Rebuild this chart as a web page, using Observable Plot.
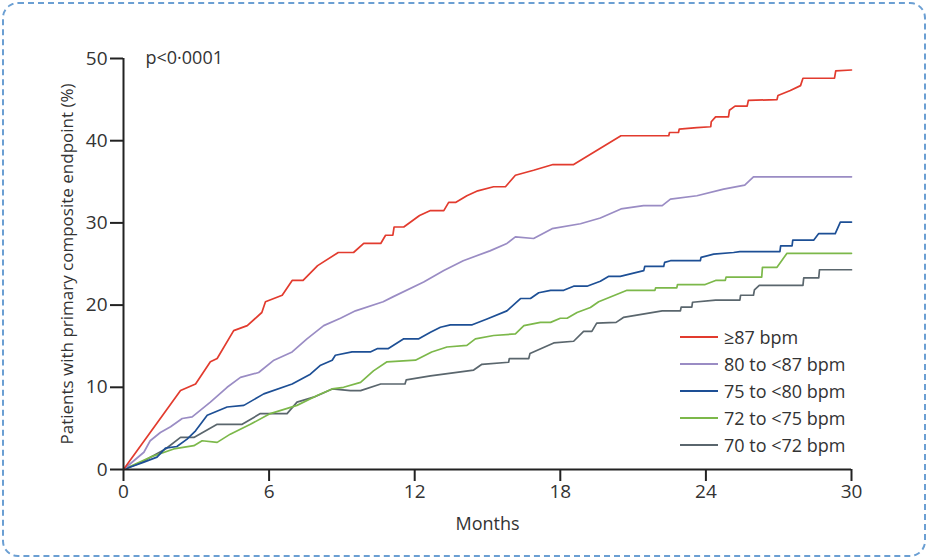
<!DOCTYPE html>
<html>
<head>
<meta charset="utf-8">
<script src="https://cdn.jsdelivr.net/npm/d3@7"></script>
<script src="https://cdn.jsdelivr.net/npm/@observablehq/plot@0.6"></script>
<style>
  html, body { margin: 0; padding: 0; background: #fff; }
  #wrap { position: relative; width: 928px; height: 559px; overflow: hidden; font-family: "Open Sans", sans-serif; }
  #border { position: absolute; left: 2px; top: 2px; right: 2px; bottom: 2px; border: 2px dashed #6b9fd3; border-radius: 16px; pointer-events: none; }
  #chart { position: absolute; left: 0; top: 0; }
  #legend { position: absolute; left: 680px; top: 324px; color: #333; font-size: 18px; }
  .row { display: flex; align-items: center; height: 26.8px; }
  .sw { width: 38px; height: 0; border-top: 2px solid; margin-right: 6px; }
</style>
</head>
<body>
<div id="wrap">
  <div id="chart"></div>
  <div id="legend"></div>
  <div id="border"></div>
</div>
<script>
const seriesNames = ["≥87 bpm", "80 to <87 bpm", "75 to <80 bpm", "72 to <75 bpm", "70 to <72 bpm"];
const seriesColors = ["#e23b2e", "#9a8cc4", "#1d4f95", "#7cb84a", "#5a666d"];
const xTicks = [0, 6, 12, 18, 24, 30];
const yTicks = [0, 10, 20, 30, 40, 50];

const monthsA = [0, 2.35, 2.97, 3.58, 3.86, 4.54, 5.1, 5.7, 5.85, 6.54, 6.95, 7.4, 8.0, 8.85, 9.48, 9.9, 10.6, 10.8, 11.1, 11.15, 11.55, 12.2, 12.65, 13.2, 13.4, 13.7, 14.15, 14.6, 15.25, 15.74, 16.15, 16.9, 17.7, 18.55, 20.5, 22.47, 22.5, 22.87, 22.9, 23.63, 24.2, 24.22, 24.4, 24.93, 24.97, 25.2, 25.7, 25.75, 26.93, 26.97, 27.48, 27.9, 28.0, 29.3, 29.35, 30];
const pctA = [0, 9.6, 10.4, 13.1, 13.5, 16.9, 17.5, 19.1, 20.4, 21.2, 23.0, 23.0, 24.8, 26.4, 26.4, 27.5, 27.5, 28.5, 28.5, 29.5, 29.5, 30.9, 31.5, 31.5, 32.5, 32.5, 33.3, 33.9, 34.4, 34.4, 35.8, 36.4, 37.1, 37.1, 40.6, 40.6, 41.0, 41.0, 41.4, 41.6, 41.7, 42.3, 42.9, 42.9, 43.7, 44.2, 44.2, 44.9, 45.0, 45.5, 46.1, 46.7, 47.6, 47.6, 48.5, 48.6];

const monthsB = [0, 0.84, 1.1, 1.52, 1.94, 2.42, 2.83, 3.58, 4.27, 4.82, 5.57, 6.2, 6.95, 7.56, 8.25, 8.94, 9.56, 10.7, 11.1, 12.37, 13.2, 14.0, 15.1, 15.8, 16.15, 16.9, 17.66, 18.83, 19.65, 20.5, 21.43, 22.2, 22.54, 23.63, 24.73, 25.6, 25.96, 30];
const pctB = [0, 2.1, 3.5, 4.5, 5.2, 6.2, 6.4, 8.2, 10.0, 11.2, 11.8, 13.3, 14.3, 15.9, 17.5, 18.4, 19.3, 20.4, 21.0, 22.8, 24.2, 25.4, 26.6, 27.5, 28.3, 28.1, 29.3, 29.9, 30.6, 31.7, 32.1, 32.1, 32.9, 33.3, 34.1, 34.6, 35.6, 35.6];

const monthsC = [0, 0.84, 1.38, 1.73, 2.2, 2.62, 2.97, 3.45, 4.27, 4.96, 5.78, 6.95, 7.7, 8.1, 8.6, 8.73, 9.42, 10.17, 10.45, 10.9, 11.55, 12.17, 12.65, 13.06, 13.47, 14.37, 14.98, 15.8, 16.36, 16.77, 17.11, 17.6, 18.14, 18.55, 19.1, 19.65, 20.0, 20.47, 21.44, 21.48, 22.26, 22.3, 22.54, 23.77, 23.8, 24.32, 25.14, 25.4, 27.05, 27.08, 27.55, 27.58, 28.44, 28.65, 29.33, 29.54, 30];
const pctC = [0, 0.9, 1.5, 2.6, 2.8, 3.7, 4.7, 6.6, 7.6, 7.8, 9.2, 10.4, 11.6, 12.65, 13.3, 13.9, 14.3, 14.3, 14.7, 14.7, 15.9, 15.9, 16.7, 17.3, 17.6, 17.6, 18.3, 19.3, 20.8, 20.8, 21.5, 21.8, 21.8, 22.3, 22.3, 22.9, 23.5, 23.5, 24.2, 24.7, 24.7, 25.2, 25.4, 25.4, 25.8, 26.2, 26.4, 26.5, 26.5, 27.2, 27.2, 27.9, 27.9, 28.7, 28.7, 30.1, 30.1];

const monthsD = [0, 1.1, 2.07, 2.9, 3.24, 3.86, 4.4, 5.23, 6.05, 7.15, 7.98, 8.6, 9.07, 9.77, 10.3, 10.86, 12.03, 12.7, 13.33, 14.15, 14.5, 15.25, 16.15, 16.5, 17.18, 17.6, 18.0, 18.28, 18.69, 19.24, 19.58, 20.75, 21.9, 21.93, 22.8, 22.83, 23.97, 24.4, 24.8, 24.83, 26.3, 26.33, 26.93, 27.34, 30];
const pctD = [0, 1.5, 2.5, 2.9, 3.5, 3.3, 4.3, 5.5, 6.8, 7.8, 9.0, 9.8, 10.0, 10.6, 12.0, 13.1, 13.3, 14.3, 14.9, 15.1, 15.9, 16.3, 16.5, 17.5, 17.9, 17.9, 18.4, 18.4, 19.1, 19.7, 20.4, 21.8, 21.8, 22.1, 22.1, 22.5, 22.5, 23.0, 23.0, 23.4, 23.4, 24.6, 24.6, 26.3, 26.3];

const monthsE = [0, 0.76, 1.73, 2.35, 2.9, 3.86, 4.89, 5.64, 6.74, 7.15, 7.84, 8.6, 9.35, 9.77, 10.6, 11.6, 11.65, 12.65, 14.43, 14.77, 15.87, 15.9, 16.7, 16.75, 17.73, 18.55, 18.96, 19.3, 19.5, 20.3, 20.6, 22.2, 22.95, 22.98, 23.42, 23.45, 24.4, 25.4, 25.43, 25.96, 26.0, 26.2, 28.0, 28.03, 28.65, 28.68, 30];
const pctE = [0, 0.9, 2.5, 3.9, 3.9, 5.5, 5.5, 6.8, 6.8, 8.2, 8.8, 9.8, 9.6, 9.6, 10.4, 10.4, 10.9, 11.4, 12.1, 12.8, 13.05, 13.5, 13.5, 14.1, 15.4, 15.6, 16.8, 16.8, 17.8, 17.9, 18.5, 19.3, 19.3, 19.75, 19.75, 20.35, 20.6, 20.6, 21.2, 21.2, 21.85, 22.4, 22.4, 23.3, 23.3, 24.3, 24.3];

const allMonths = [monthsA, monthsB, monthsC, monthsD, monthsE];
const allPct = [pctA, pctB, pctC, pctD, pctE];

const data = [];
allMonths.forEach((ms, i) => ms.forEach((m, j) => data.push({ series: seriesNames[i], month: m, pct: allPct[i][j] })));

// draw lower series first so red sits on top
const order = [4, 3, 2, 1, 0];

const chart = Plot.plot({
  width: 928,
  height: 559,
  marginLeft: 123,
  marginRight: 77,
  marginTop: 58,
  marginBottom: 90,
  style: { fontFamily: "Open Sans, sans-serif", fontSize: "19px", color: "#333", background: "transparent", overflow: "visible" },
  x: { domain: [0, 30] },
  y: { domain: [0, 50] },
  marks: [
    ...order.map(i => Plot.line(data.filter(d => d.series === seriesNames[i]), {
      x: "month", y: "pct", stroke: seriesColors[i], strokeWidth: 1.7, curve: "linear"
    })),
    Plot.axisX({ ticks: xTicks, tickSize: 12, tickPadding: 3, fontSize: 19, label: null, stroke: "#222", strokeWidth: 2, tickFormat: d => String(d) }),
    Plot.axisY({ ticks: yTicks, tickSize: 13, tickPadding: 3, fontSize: 19, label: null, stroke: "#222", strokeWidth: 2, tickFormat: d => String(d) }),
    Plot.ruleY([0], { stroke: "#222", strokeWidth: 2 }),
    Plot.ruleX([0], { stroke: "#222", strokeWidth: 2 }),
    Plot.text(["p<0·0001"], { frameAnchor: "top-left", textAnchor: "start", lineAnchor: "middle", dx: 22, dy: 0, fontSize: 18, fill: "#333" }),
    Plot.text(["Months"], { frameAnchor: "bottom", lineAnchor: "middle", dy: 55, fontSize: 18, fill: "#333" }),
    Plot.text(["Patients with primary composite endpoint (%)"], { frameAnchor: "left", rotate: -90, textAnchor: "middle", lineAnchor: "middle", dx: -56, fontSize: 17, fill: "#333" })
  ]
});
document.getElementById("chart").appendChild(chart);

const legend = document.getElementById("legend");
seriesNames.forEach((name, i) => {
  const row = document.createElement("div");
  row.className = "row";
  const sw = document.createElement("span");
  sw.className = "sw";
  sw.style.borderTopColor = seriesColors[i];
  const t = document.createElement("span");
  t.textContent = name;
  row.appendChild(sw);
  row.appendChild(t);
  legend.appendChild(row);
});
</script>
</body>
</html>
